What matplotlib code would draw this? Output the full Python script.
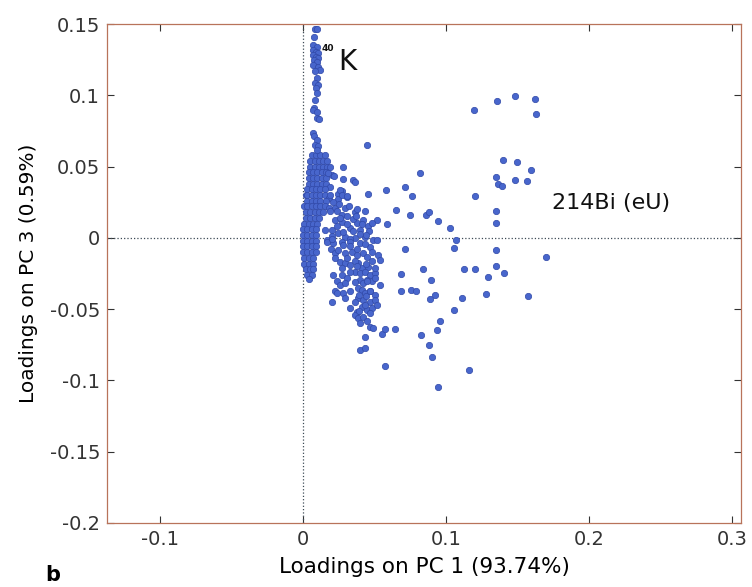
import matplotlib
matplotlib.use("Agg")
import matplotlib.pyplot as plt

# ---------------- data (PC1 loading, PC3 loading) ----------------
# scattered points
sparse_x = [0.1196, 0.1357, 0.1483, 0.1619, 0.1627,
            0.1399, 0.1492, 0.1592, 0.1348, 0.1483, 0.1564, 0.1360, 0.1392,
            0.0820, 0.0711, 0.0760, 0.1199, 0.0745, 0.0862, 0.0883, 0.0941, 0.1028, 0.1350, 0.1345,
            0.1070, 0.1054, 0.0710, 0.1350, 0.1697, 0.0837, 0.1127, 0.1201, 0.1350, 0.1402, 0.1294,
            0.0682, 0.0895, 0.1573,
            0.0580, 0.0652, 0.0587,
            0.0682, 0.0753, 0.0787, 0.0923, 0.0888, 0.1108, 0.1280, 0.1056, 0.0958, 0.0939,
            0.0573, 0.0640, 0.0827, 0.0883, 0.0899, 0.0570, 0.1156, 0.0944,
            0.0452, 0.0445]
sparse_y = [0.0898, 0.0963, 0.0996, 0.0975, 0.0872,
            0.0547, 0.0533, 0.0475, 0.0426, 0.0407, 0.0396, 0.0377, 0.0365,
            0.0458, 0.0356, 0.0295, 0.0292, 0.0159, 0.0158, 0.0182, 0.0119, 0.0070, 0.0189, 0.0105,
            -0.0014, -0.0070, -0.0079, -0.0086, -0.0131, -0.0219, -0.0219, -0.0215, -0.0194, -0.0248, -0.0272,
            -0.0250, -0.0298, -0.0408,
            0.0337, 0.0198, 0.0100,
            -0.0370, -0.0363, -0.0372, -0.0403, -0.0429, -0.0424, -0.0391, -0.0507, -0.0580, -0.0645,
            -0.0637, -0.0638, -0.0682, -0.0750, -0.0836, -0.0898, -0.0926, -0.1043,
            0.0311, 0.0654]

# upper part of the wing next to the main column
wing_up_x = [0.0177, 0.0217, 0.0277, 0.0282, 0.0352, 0.0364,
             0.0270, 0.0247, 0.0305, 0.0247,
             0.0224, 0.0294, 0.0235, 0.0270, 0.0305, 0.0364, 0.0434, 0.0422, 0.0515, 0.0375,
             0.0452, 0.0480, 0.0224, 0.0329, 0.0399, 0.0247, 0.0294, 0.0364, 0.0434, 0.0492, 0.0200,
             0.0250, 0.0320, 0.0380, 0.0270, 0.0350, 0.0400, 0.0460, 0.0200, 0.0280, 0.0330,
             0.0259, 0.0270, 0.0306, 0.0154, 0.0168, 0.0194, 0.0224,
             0.0190, 0.0210, 0.0190, 0.0260, 0.0310, 0.0370, 0.0410, 0.0440, 0.0350, 0.0240]
wing_up_y = [0.0453, 0.0437, 0.0496, 0.0411, 0.0404, 0.0395,
             0.0332, 0.0306, 0.0290, 0.0271,
             0.0208, 0.0208, 0.0185, 0.0161, 0.0150, 0.0178, 0.0185, 0.0126, 0.0126, 0.0103,
             0.0084, 0.0103, 0.0126, 0.0068, 0.0056, 0.0033, 0.0009, -0.0002, 0.0009, -0.0014, 0.0056,
             0.0240, 0.0225, 0.0205, 0.0110, 0.0130, 0.0030, 0.0050, 0.0010, 0.0040, -0.0010,
             0.0337, 0.0302, 0.0295, 0.0056, -0.0014, -0.0075, -0.0107,
             0.0300, 0.0250, 0.0190, 0.0140, 0.0100, 0.0150, 0.0100, 0.0020, 0.0050, 0.0080]

# lower part of the wing
wing_low_x = [0.0166, 0.0212, 0.0270, 0.0329, 0.0399, 0.0469, 0.0515,
              0.0247, 0.0294, 0.0340, 0.0375, 0.0422, 0.0445, 0.0527, 0.0538,
              0.0224, 0.0259, 0.0294, 0.0329, 0.0387, 0.0410, 0.0457, 0.0364, 0.0399, 0.0434,
              0.0469, 0.0503, 0.0212, 0.0270, 0.0305,
              0.0235, 0.0259, 0.0294, 0.0399, 0.0422, 0.0445, 0.0480, 0.0538,
              0.0224, 0.0235, 0.0282, 0.0387, 0.0410, 0.0434, 0.0469, 0.0503,
              0.0387, 0.0422, 0.0469, 0.0503, 0.0205,
              0.0410, 0.0445, 0.0480, 0.0329, 0.0375, 0.0364, 0.0387, 0.0422,
              0.0469, 0.0492, 0.0550, 0.0434, 0.0399, 0.0434, 0.0501,
              0.0200, 0.0280, 0.0330, 0.0380, 0.0430, 0.0480, 0.0310, 0.0360, 0.0440,
              0.0480, 0.0270, 0.0330, 0.0380, 0.0450, 0.0360, 0.0330, 0.0390, 0.0440,
              0.0470, 0.0360, 0.0430, 0.0390, 0.0470, 0.0520, 0.0500, 0.0290, 0.0400, 0.0450]
wing_low_y = [-0.0026, -0.0037, -0.0026, -0.0026, -0.0037, -0.0061, -0.0014,
              -0.0084, -0.0108, -0.0096, -0.0119, -0.0108, -0.0131, -0.0119, -0.0154,
              -0.0143, -0.0166, -0.0178, -0.0189, -0.0178, -0.0213, -0.0201, -0.0236, -0.0248, -0.0236,
              -0.0259, -0.0248, -0.0259, -0.0259, -0.0283,
              -0.0306, -0.0330, -0.0318, -0.0295, -0.0318, -0.0295, -0.0306, -0.0330,
              -0.0376, -0.0388, -0.0388, -0.0353, -0.0365, -0.0388, -0.0376, -0.0400,
              -0.0423, -0.0435, -0.0447, -0.0435, -0.0447,
              -0.0482, -0.0505, -0.0493, -0.0493, -0.0517, -0.0540, -0.0563, -0.0552,
              -0.0622, -0.0633, -0.0676, -0.0692, -0.0785, -0.0774, -0.0208,
              -0.0010, -0.0050, -0.0060, -0.0080, -0.0040, -0.0100, -0.0140, -0.0160, -0.0180,
              -0.0160, -0.0210, -0.0240, -0.0200, -0.0300, -0.0310, -0.0370, -0.0400, -0.0410,
              -0.0370, -0.0450, -0.0470, -0.0510, -0.0530, -0.0470, -0.0280, -0.0420, -0.0600, -0.0580]

# thin column of points rising towards 40K
column_x = [0.0080, 0.0100, 0.0079, 0.0072, 0.0096, 0.0072, 0.0087, 0.0107, 0.0072, 0.0091,
            0.0107, 0.0077, 0.0096, 0.0072, 0.0107, 0.0119, 0.0084, 0.0096, 0.0084, 0.0107,
            0.0087, 0.0096, 0.0084, 0.0079, 0.0072, 0.0096, 0.0100, 0.0112, 0.0072, 0.0079,
            0.0096, 0.0084, 0.0107, 0.0096]
column_y = [0.1464, 0.1464, 0.1407, 0.1354, 0.1342, 0.1319, 0.1307, 0.1295, 0.1283, 0.1272,
            0.1260, 0.1248, 0.1230, 0.1213, 0.1201, 0.1178, 0.1173, 0.1119, 0.1084, 0.1072,
            0.1049, 0.1014, 0.0968, 0.0909, 0.0897, 0.0886, 0.0839, 0.0832, 0.0734, 0.0711,
            0.0687, 0.0652, 0.0641, 0.0617]

# dense blob near PC1 = 0
blob_x = [0.006, 0.009, 0.012, 0.015,
          0.005, 0.008, 0.011, 0.014, 0.017,
          0.005, 0.008, 0.011, 0.014, 0.017, 0.019,
          0.004, 0.007, 0.010, 0.013, 0.016,
          0.004, 0.007, 0.010, 0.013, 0.016, 0.020,
          0.004, 0.007, 0.010, 0.013, 0.016, 0.019,
          0.003, 0.006, 0.009, 0.012, 0.015,
          0.002, 0.003, 0.006, 0.009, 0.012, 0.015, 0.018,
          0.003, 0.006, 0.009, 0.012, 0.016,
          0.001, 0.003, 0.006, 0.009, 0.012, 0.015, 0.018,
          0.002, 0.005, 0.008, 0.011, 0.014,
          0.002, 0.005, 0.008, 0.011,
          0.001, 0.004, 0.007, 0.010,
          0.000, 0.003, 0.006, 0.009,
          0.000, 0.003, 0.006, 0.009,
          0.000, 0.003, 0.006, 0.009,
          0.000, 0.003, 0.006, 0.009,
          0.000, 0.003, 0.006, 0.009,
          0.001, 0.004, 0.007,
          0.001, 0.004, 0.007,
          0.002, 0.005, 0.007,
          0.003, 0.006,
          0.004]
blob_y = [0.058, 0.058, 0.058, 0.058,
          0.054, 0.054, 0.054, 0.054, 0.054,
          0.050, 0.050, 0.050, 0.050, 0.050, 0.050,
          0.046, 0.046, 0.046, 0.046, 0.046,
          0.042, 0.042, 0.042, 0.042, 0.042, 0.044,
          0.038, 0.038, 0.038, 0.038, 0.038, 0.036,
          0.034, 0.034, 0.034, 0.034, 0.034,
          0.030, 0.030, 0.030, 0.030, 0.030, 0.030, 0.028,
          0.026, 0.026, 0.026, 0.026, 0.026,
          0.022, 0.022, 0.022, 0.022, 0.022, 0.022, 0.021,
          0.018, 0.018, 0.018, 0.018, 0.018,
          0.014, 0.014, 0.014, 0.014,
          0.010, 0.010, 0.010, 0.010,
          0.006, 0.006, 0.006, 0.006,
          0.002, 0.002, 0.002, 0.002,
          -0.002, -0.002, -0.002, -0.002,
          -0.006, -0.006, -0.006, -0.006,
          -0.010, -0.010, -0.010, -0.010,
          -0.014, -0.014, -0.014,
          -0.018, -0.018, -0.018,
          -0.022, -0.022, -0.022,
          -0.026, -0.026,
          -0.029]

x_ticks = [-0.1, 0, 0.1, 0.2, 0.3]
x_tick_labels = ['-0.1', '0', '0.1', '0.2', '0.3']
y_ticks = [-0.2, -0.15, -0.1, -0.05, 0, 0.05, 0.1, 0.15]
y_tick_labels = ['-0.2', '-0.15', '-0.1', '-0.05', '0', '0.05', '0.1', '0.15']

# ---------------- figure ----------------
plt.rcParams['font.family'] = ['DejaVu Sans']
plt.rcParams['axes.unicode_minus'] = False

fig = plt.figure(figsize=(7.52, 5.87), dpi=100)
ax = fig.add_axes([107 / 752, 1 - 523 / 587, 634 / 752, 499 / 587])

dot_face = '#4866cc'
dot_edge = '#3149a8'
for gx, gy in [(blob_x, blob_y), (column_x, column_y), (wing_up_x, wing_up_y),
               (wing_low_x, wing_low_y), (sparse_x, sparse_y)]:
    ax.scatter(gx, gy, s=21, facecolor=dot_face, edgecolor=dot_edge,
               linewidths=0.5, zorder=3)

ax.axhline(0, color='#3d4a55', linestyle=':', linewidth=0.9, zorder=2)
ax.axvline(0, color='#3d4a55', linestyle=':', linewidth=0.9, zorder=2)

ax.set_xlim(-0.137, 0.306)
ax.set_ylim(-0.2, 0.15)
ax.set_xticks(x_ticks)
ax.set_xticklabels(x_tick_labels)
ax.set_yticks(y_ticks)
ax.set_yticklabels(y_tick_labels)
ax.tick_params(direction='in', length=5, width=0.8, colors='#333333',
               labelsize=14, top=True, right=True, pad=5)
for sp in ax.spines.values():
    sp.set_color('#b8735a')
    sp.set_linewidth(0.9)

ax.set_xlabel('Loadings on PC 1 (93.74%)', fontsize=15.5, labelpad=6)
ax.set_ylabel('Loadings on PC 3 (0.59%)', fontsize=14.5, labelpad=8)

ax.text(0.0128, 0.1300, '40', fontsize=6.5, fontweight='bold', color='#111111',
        ha='left', va='bottom', zorder=4)
ax.text(0.0245, 0.1180, 'K', fontsize=20, color='#111111', ha='left',
        va='baseline', zorder=4)
ax.text(0.1740, 0.0203, '214Bi (eU)', fontsize=16, color='#111111',
        ha='left', va='baseline', zorder=4)

fig.text(45 / 752, 1 - 581 / 587, 'b', fontsize=15, fontweight='bold',
         ha='left', va='baseline')

fig.savefig('out.png', dpi=100)
